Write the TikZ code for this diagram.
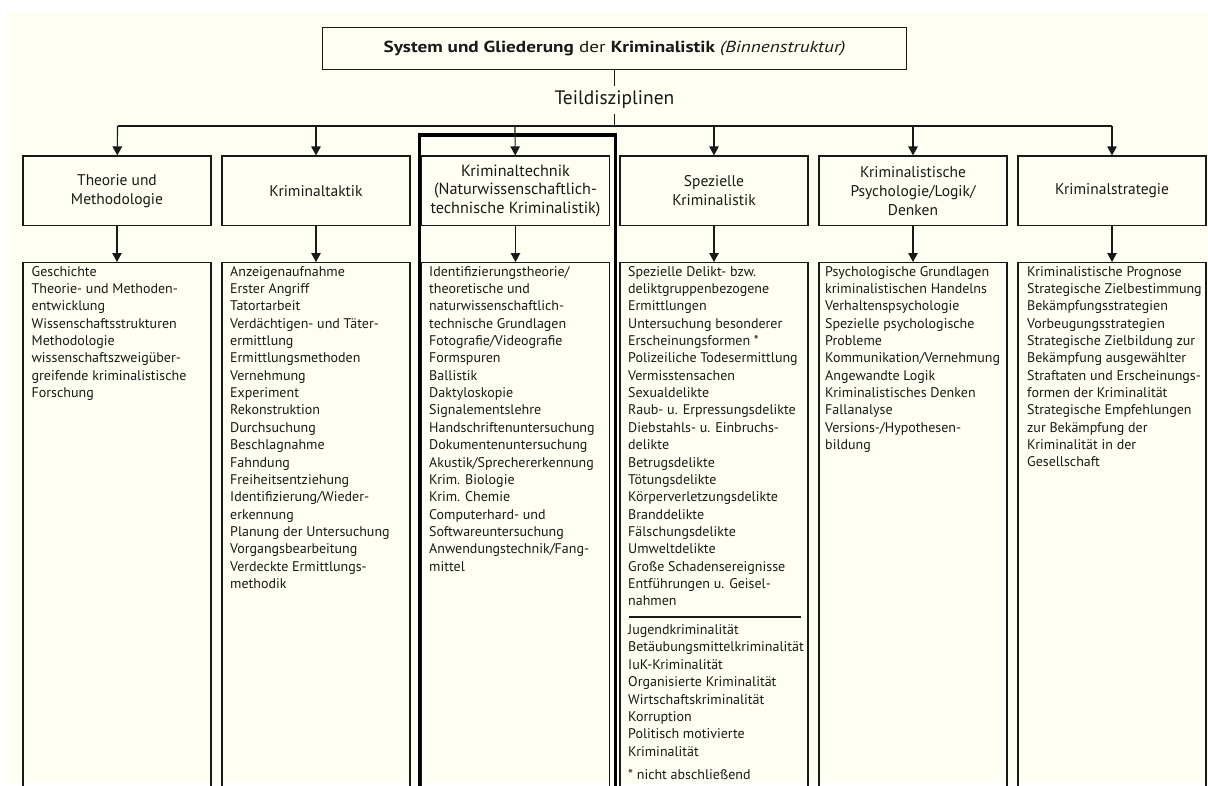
\documentclass[tikz,border=0pt]{standalone}
\usepackage{fontspec}
\setmainfont{PT Sans}
\newfontfamily\titlefont[FakeStretch=1.2]{PT Sans}
\usetikzlibrary{arrows.meta}
\definecolor{paper}{RGB}{255,254,243}
\definecolor{ink}{RGB}{25,25,25}
\tikzset{
  rule/.style={draw=ink, line width=1.15pt},
  arr/.style={rule, -{Triangle[width=9.5pt,length=9pt]}},
  headbox/.style={rule, minimum width=188pt, minimum height=69.5pt, inner sep=0pt,
    align=center, text=ink, font=\fontsize{15.5}{19}\selectfont},
  listbox/.style={rule, minimum width=188pt, minimum height=560pt, anchor=north, inner sep=0pt},
  listtext/.style={anchor=north west, inner sep=0pt, align=left, text=ink,
    font=\fontsize{14}{17.35}\selectfont},
}
\begin{document}
\begin{tikzpicture}[x=1pt,y=-1pt]
  % page and paper tone
  \fill[white] (0,0) rectangle (1208,785);
  \fill[paper] (7,12) rectangle (1208,783);
  \useasboundingbox (0,0) rectangle (1208,785);

  % title and the level of sub-disciplines
  \node[rule, minimum width=583.6pt, minimum height=42pt, inner sep=0pt, text=ink,
        font=\titlefont\fontsize{16}{18}\selectfont] (title) at (614.5,48.3)
    {\textbf{System und Gliederung} der \textbf{Kriminalistik} \textit{(Binnenstruktur)}};
  \node[inner ysep=5pt, text=ink, font=\fontsize{19.5}{21}\selectfont] (teil) at (614.5,100) {Teildisziplinen};

  % distribution bus
  \coordinate (bc) at (614.5,126);
  \foreach \i/\x in {1/117.5,2/316,3/515,4/714,5/913,6/1112}
    \coordinate (b\i) at (\x,126);
  \draw[rule] (title) -- (teil);
  \draw[rule] (teil) -- (bc);
  \draw[rule] (b1) -- (b6);

  % highlighted column frame
  \draw[draw=black, line width=3.8pt] (419.5,900) -- (419.5,135) -- (615.5,135) -- (615.5,900);

  % column headings
  \node[headbox] (h1) at (117,190.75) {Theorie und\\Methodologie};
  \node[headbox] (h2) at (316,190.75) {Kriminaltaktik};
  \node[headbox, font=\fontsize{16.2}{18.5}\selectfont] (h3) at (515.5,190.75) {Kriminaltechnik\\(Naturwissenschaftlich-\\technische Kriminalistik)};
  \node[headbox] (h4) at (714,190.75) {Spezielle\\Kriminalistik};
  \node[headbox] (h5) at (913,190.75) {Kriminalistische\\Psychologie/Logik/\\Denken};
  \node[headbox] (h6) at (1112,190.75) {Kriminalstrategie};

  % content boxes (continue below the page edge)
  \foreach \i/\x in {1/117,2/316,3/515.5,4/714,5/913,6/1112}
    \node[listbox] (l\i) at (\x,262) {};

  % connectors
  \foreach \i in {1,...,6} {
    \draw[arr] (b\i) -- (h\i);
    \draw[arr] (h\i) -- (l\i);
  }

  % contents
  \node[listtext] (t1) at (31.5,266) {Geschichte\\Theorie- und Methoden-\\entwicklung\\Wissenschaftsstrukturen\\Methodologie\\wissenschaftszweigüber-\\greifende kriminalistische\\Forschung};
  \node[listtext] (t2) at (230,266) {Anzeigenaufnahme\\Erster Angriff\\Tatortarbeit\\Verdächtigen- und Täter-\\ermittlung\\Ermittlungsmethoden\\Vernehmung\\Experiment\\Rekonstruktion\\Durchsuchung\\Beschlagnahme\\Fahndung\\Freiheitsentziehung\\Identifizierung/Wieder-\\erkennung\\Planung der Untersuchung\\Vorgangsbearbeitung\\Verdeckte Ermittlungs-\\methodik};
  \node[listtext] (t3) at (429,266) {Identifizierungstheorie/\\theoretische und\\naturwissenschaftlich-\\technische Grundlagen\\Fotografie/Videografie\\Formspuren\\Ballistik\\Daktyloskopie\\Signalementslehre\\Handschriftenuntersuchung\\Dokumentenuntersuchung\\Akustik/Sprechererkennung\\Krim. Biologie\\Krim. Chemie\\Computerhard- und\\Softwareuntersuchung\\Anwendungstechnik/Fang-\\mittel};
  \node[listtext] (t4a) at (628,266) {Spezielle Delikt- bzw.\\deliktgruppenbezogene\\Ermittlungen\\Untersuchung besonderer\\Erscheinungsformen *\\Polizeiliche Todesermittlung\\Vermisstensachen\\Sexualdelikte\\Raub- u. Erpressungsdelikte\\Diebstahls- u. Einbruchs-\\delikte\\Betrugsdelikte\\Tötungsdelikte\\Körperverletzungsdelikte\\Branddelikte\\Fälschungsdelikte\\Umweltdelikte\\Große Schadensereignisse\\Entführungen u. Geisel-\\nahmen};
  \coordinate (sepL) at (629,617);
  \coordinate (sepR) at (801,617);
  \draw[rule] (sepL) -- (sepR);
  \node[listtext] (t4b) at (628,624.5) {Jugendkriminalität\\Betäubungsmittelkriminalität\\IuK-Kriminalität\\Organisierte Kriminalität\\Wirtschaftskriminalität\\Korruption\\Politisch motivierte\\Kriminalität};
  \node[listtext] (t4c) at (628,769.5) {* nicht abschließend};
  \node[listtext] (t5) at (825,266) {Psychologische Grundlagen\\kriminalistischen Handelns\\Verhaltenspsychologie\\Spezielle psychologische\\Probleme\\Kommunikation/Vernehmung\\Angewandte Logik\\Kriminalistisches Denken\\Fallanalyse\\Versions-/Hypothesen-\\bildung};
  \node[listtext] (t6) at (1027,266) {Kriminalistische Prognose\\Strategische Zielbestimmung\\Bekämpfungsstrategien\\Vorbeugungsstrategien\\Strategische Zielbildung zur\\Bekämpfung ausgewählter\\Straftaten und Erscheinungs-\\formen der Kriminalität\\Strategische Empfehlungen\\zur Bekämpfung der\\Kriminalität in der\\Gesellschaft};
\end{tikzpicture}
\end{document}
